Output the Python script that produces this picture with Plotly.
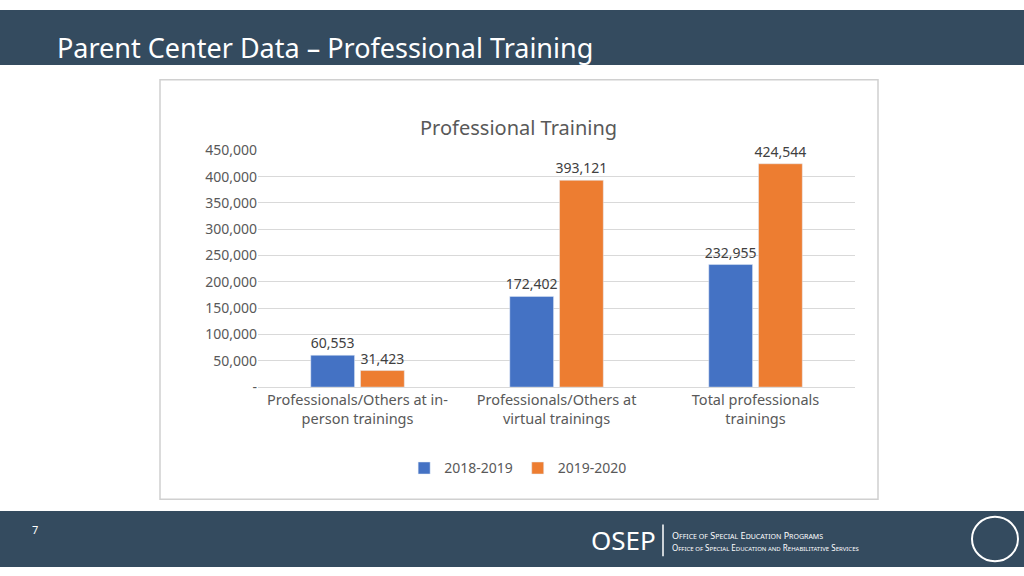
import plotly.graph_objects as go

categories = ["Professionals/Others at in-<br>person trainings", "Professionals/Others at<br>virtual trainings", "Total professionals<br>trainings"]
series_names = ["2018-2019", "2019-2020"]
values_2018 = [60553, 172402, 232955]
values_2019 = [31423, 393121, 424544]
tick_vals = [0, 50000, 100000, 150000, 200000, 250000, 300000, 350000, 400000, 450000]
tick_text = ["-", "50,000", "100,000", "150,000", "200,000", "250,000", "300,000", "350,000", "400,000", "450,000"]

font = "Noto Sans"
fig = go.Figure()
for name, vals, col in [(series_names[0], values_2018, "#4472C4"), (series_names[1], values_2019, "#ED7D31")]:
    fig.add_bar(x=categories, y=vals, name=name, marker_color=col,
                text=[f"{v:,}" for v in vals], textposition="outside", constraintext="none",
                textfont=dict(size=14, color="#404040"), cliponaxis=False)

fig.update_layout(
    width=1024, height=576, margin=dict(l=0, r=0, t=0, b=0),
    paper_bgcolor="white", plot_bgcolor="white",
    font=dict(family=font, color="#595959"),
    barmode="group", bargap=0.5, bargroupgap=0.12,
    xaxis=dict(domain=[0.252, 0.835], tickfont=dict(size=14.5), showline=True, linecolor="#d9d9d9"),
    yaxis=dict(domain=[0.323, 0.748], range=[0, 450000], tickvals=tick_vals, ticktext=tick_text,
               tickfont=dict(size=14), gridcolor="#d9d9d9", zeroline=False),
    legend=dict(orientation="h", x=0.506, xanchor="center", y=0.177, yanchor="middle",
                font=dict(size=14)),
    shapes=[
        dict(type="rect", xref="paper", yref="paper", x0=0, x1=1, y0=1 - 57/576, y1=1,
             fillcolor="#344B5F", line_width=0, layer="below"),
        dict(type="rect", xref="paper", yref="paper", x0=0, x1=1, y0=0, y1=1 - 518/576,
             fillcolor="#344B5F", line_width=0, layer="below"),
        dict(type="rect", xref="paper", yref="paper", x0=160/1024, x1=878/1024,
             y0=1 - 506/576, y1=1 - 72/576, line=dict(color="#d0d0d0", width=1.5), layer="below"),
        dict(type="line", xref="paper", yref="paper", x0=663/1024, x1=663/1024,
             y0=1 - 565/576, y1=1 - 532/576, line=dict(color="white", width=1.5)),
        dict(type="circle", xref="paper", yref="paper", x0=972/1024, x1=1018/1024,
             y0=1 - 570/576, y1=1 - 524/576, line=dict(color="white", width=2)),
    ],
    annotations=[
        dict(text="Parent Center Data – Professional Training", x=55/1024, y=1 - 39/576,
             xref="paper", yref="paper", xanchor="left", yanchor="middle", showarrow=False,
             font=dict(size=27, color="white", family=font)),
        dict(text="Professional Training", x=518/1024, y=1 - 105/576, xref="paper", yref="paper",
             showarrow=False, font=dict(size=20, color="#595959")),
        dict(text="7", x=30/1024, y=1 - 547/576, xref="paper", yref="paper", showarrow=False,
             font=dict(size=11, color="white")),
        dict(text="OSEP", x=658/1024, y=1 - 548/576, xref="paper", yref="paper", xanchor="right",
             yanchor="middle", showarrow=False, font=dict(size=26, color="white")),
        dict(text="O<span style='font-size:7px'>FFICE OF</span> S<span style='font-size:7px'>PECIAL</span> E<span style='font-size:7px'>DUCATION</span> P<span style='font-size:7px'>ROGRAMS</span>",
             x=670/1024, y=1 - 543/576, xref="paper", yref="paper", xanchor="left", yanchor="middle",
             showarrow=False, font=dict(size=9, color="white")),
        dict(text="O<span style='font-size:6px'>FFICE OF</span> S<span style='font-size:6px'>PECIAL</span> E<span style='font-size:6px'>DUCATION AND</span> R<span style='font-size:6px'>EHABILITATIVE</span> S<span style='font-size:6px'>ERVICES</span>",
             x=670/1024, y=1 - 556/576, xref="paper", yref="paper", xanchor="left", yanchor="middle",
             showarrow=False, font=dict(size=8, color="white")),
    ],
)
fig.write_html("out.html", config={"displayModeBar": False},
               post_script="document.body.style.margin='0';document.body.style.padding='0';"
                           "var d=document.getElementById('{plot_id}');d.style.position='fixed';d.style.top='0';d.style.left='0';")
